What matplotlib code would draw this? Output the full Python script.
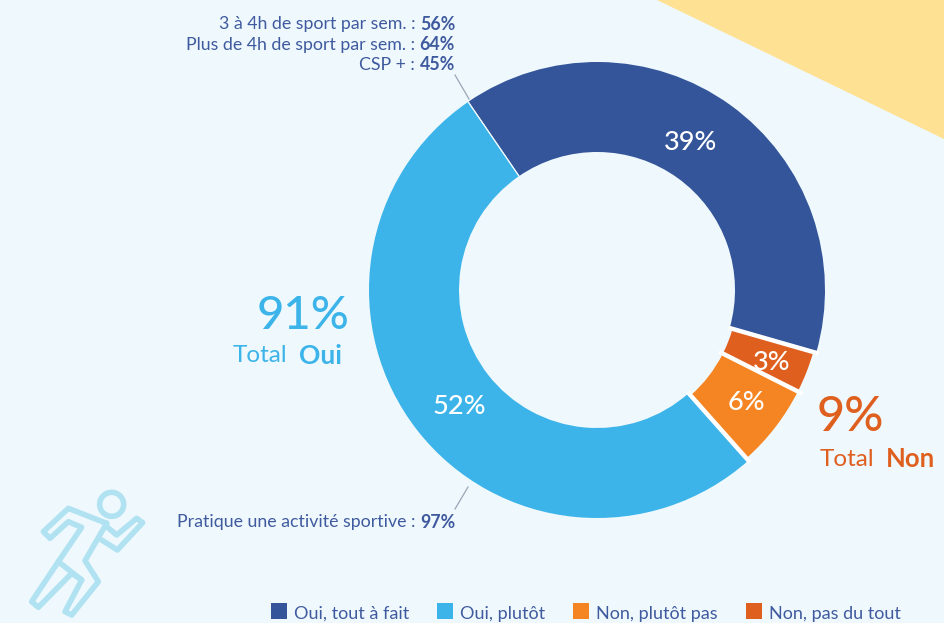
import numpy as np
import matplotlib
matplotlib.use("Agg")
import matplotlib.pyplot as plt
from matplotlib.patches import Polygon, Circle, Rectangle

plt.rcParams['font.family'] = ['Lato', 'DejaVu Sans']

categories = ["Oui, tout à fait", "Non, pas du tout", "Non, plutôt pas", "Oui, plutôt"]
values = [39, 3, 6, 52]
value_labels = ["39%", "3%", "6%", "52%"]
colors = ["#34559A", "#DF5F1E", "#F58523", "#3CB4E9"]
legend_order = [0, 3, 2, 1]
total_oui = "91%"
total_non = "9%"
W, H = 944, 623
BG = "#EFF9FD"

fig = plt.figure(figsize=(W/100, H/100), dpi=100, facecolor=BG)
# Full-figure overlay in pixel coordinates, y down
ov = fig.add_axes([0, 0, 1, 1], zorder=0)
ov.set_xlim(0, W); ov.set_ylim(H, 0); ov.axis("off")

# Yellow corner
ov.add_patch(Polygon([(657, 0), (944, 0), (944, 139)], closed=True, fc="#FFE194", ec="none"))

# Runner icon
ic = "#B0E2F2"
def z(pts):
    return [(x/3, 470 + y/3) for x, y in pts]
body = z([(320,160),(205,115),(130,185),(150,205),(205,155),(245,172),(175,275),(95,395),(115,412),
          (215,310),(245,330),(195,425),(215,435),(295,335),(255,272),(320,160)])
ov.plot(*zip(*body), color=ic, lw=4, solid_joinstyle="round", solid_capstyle="round")
ov.plot(*zip(*z([(175,275),(245,330)])), color=ic, lw=4, solid_capstyle="round")
arm = z([(320,170),(350,195),(410,145),(428,158),(352,240),(305,210)])
ov.plot(*zip(*arm), color=ic, lw=4, solid_joinstyle="round", solid_capstyle="round")
ov.add_patch(Circle((335/3, 470+103/3), 12, fc="none", ec=ic, lw=4))

# Donut
R, r_in = 228, 138
cx, cy = 597, 290
ax = fig.add_axes([(cx-R)/W, 1-(cy+R)/H, 2*R/W, 2*R/H], zorder=1)
ax.patch.set_alpha(0)
start = 124.4
wedges, _ = ax.pie(values, colors=colors, startangle=start, counterclock=False, radius=1,
                   wedgeprops=dict(width=(R-r_in)/R, edgecolor="none"))
# The two "Non" segments sit slightly inside the ring
for i in (1, 2):
    wedges[i].set_radius(225/R)
    wedges[i].set_width((225-141)/R)

# Separators derive from the values
bounds = start - np.cumsum([0] + values) * 3.6
for i, a in enumerate(bounds):
    th = np.deg2rad(a)
    thin = i in (0, 4)
    ax.plot([0.6*np.cos(th), 1.01*np.cos(th)], [0.6*np.sin(th), 1.01*np.sin(th)],
            color=BG if thin else "white", lw=0.8 if thin else 3.2, solid_capstyle="butt")
ax.set_xlim(-1, 1); ax.set_ylim(-1, 1); ax.set_aspect("equal")

# Text layer above the donut
ov2 = fig.add_axes([0, 0, 1, 1], zorder=2)
ov2.set_xlim(0, W); ov2.set_ylim(H, 0); ov2.axis("off"); ov2.patch.set_alpha(0)
label_pos = [(691, 143), (772, 362), (746, 402), (459, 406)]
for t, (x, y) in zip(value_labels, label_pos):
    ov2.text(x, y, t, color="white", fontsize=19.5, fontweight="medium", ha="center", va="center")

# Totals
ov2.text(303.5, 316, total_oui, color=colors[3], fontsize=34, fontweight="medium", ha="center", va="center")
ov2.text(233, 356, "Total", color=colors[3], fontsize=17.5, ha="left", va="center")
ov2.text(299, 356, "Oui", color=colors[3], fontsize=19, fontweight="bold", ha="left", va="center")
ov2.text(850, 417, total_non, color=colors[1], fontsize=35, fontweight="medium", ha="center", va="center")
ov2.text(820, 459, "Total", color=colors[1], fontsize=17.5, ha="left", va="center")
ov2.text(886, 459, "Non", color=colors[1], fontsize=18.5, fontweight="bold", ha="left", va="center")

# Annotations: regular + bold right-aligned
notes = [("3 à 4h de sport par sem. : ", "56%", 24), ("Plus de 4h de sport par sem. : ", "64%", 45),
         ("CSP + : ", "45%", 65), ("Pratique une activité sportive : ", "97%", 522)]
txt = "#3F5A9E"
fig.canvas.draw()
rend = fig.canvas.get_renderer()
for a, b, y in notes:
    tb = ov2.text(455, y, b, color=txt, fontsize=12.8, fontweight="bold", ha="right", va="center")
    w = tb.get_window_extent(rend).width
    ov2.text(455 - w, y, a, color=txt, fontsize=12.8, ha="right", va="center")

ov2.plot([469, 455], [99, 75], color="#9AA5B5", lw=0.9)
ov2.plot([468, 455], [487, 509], color="#9AA5B5", lw=0.9)

# Legend
leg_x = [271, 437, 573, 746]
for k, x in zip(legend_order, leg_x):
    ov2.add_patch(Rectangle((x, 603), 16, 16, fc=colors[k], ec="none"))
    ov2.text(x + 23, 613.5, categories[k], color=txt, fontsize=13, ha="left", va="center")

fig.savefig("out.png", dpi=100, facecolor=BG)
